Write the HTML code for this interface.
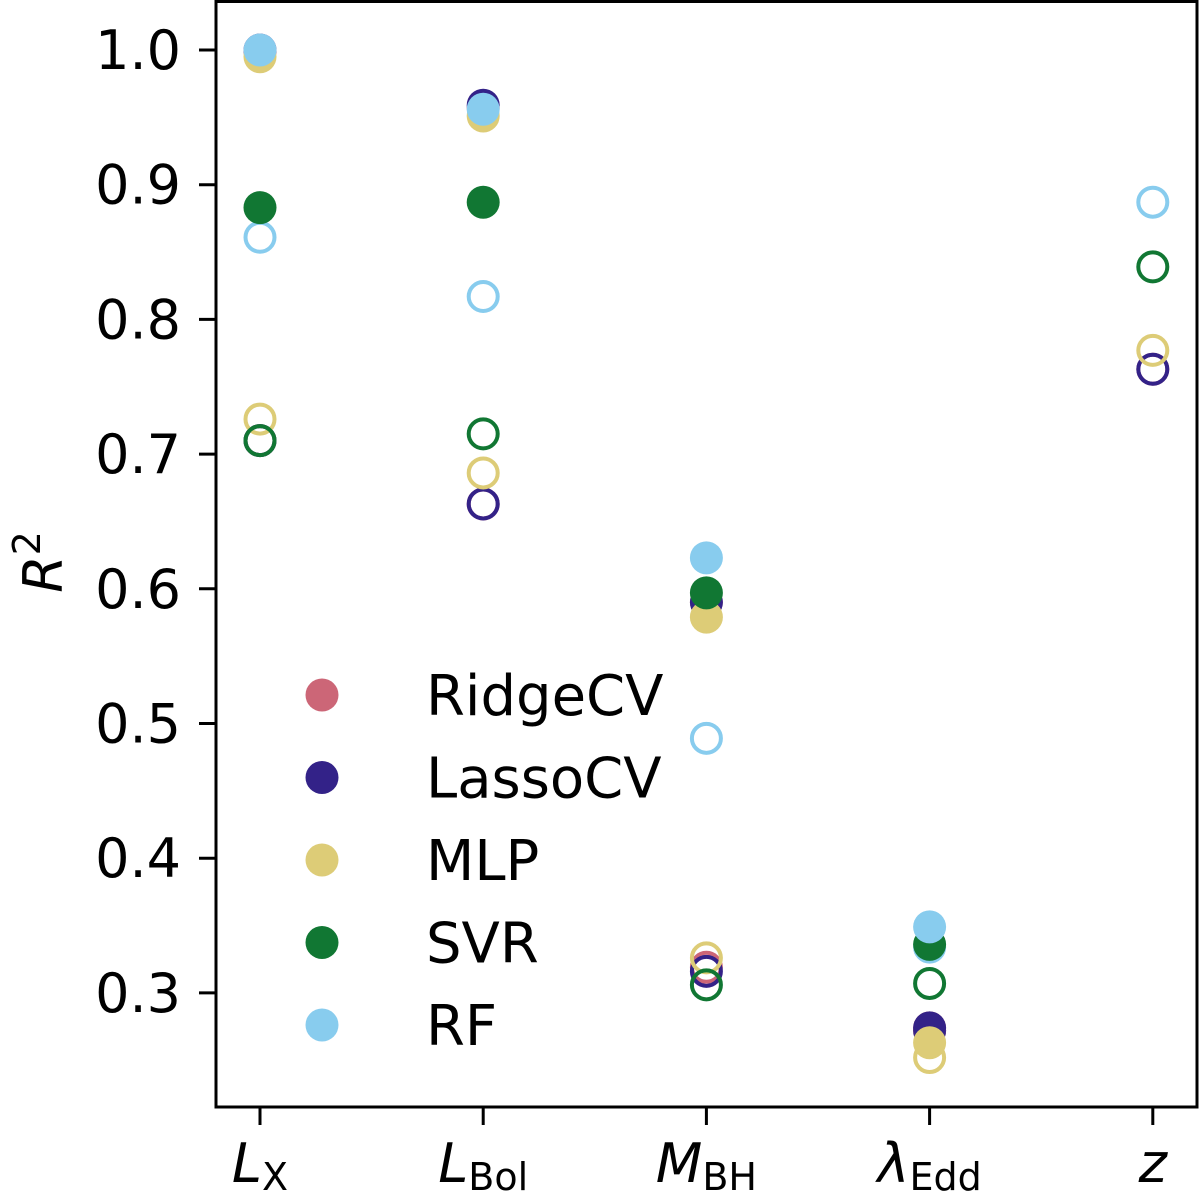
<!DOCTYPE html>
<html><head><meta charset="utf-8"><style>
html,body{margin:0;padding:0;background:#fff;}
svg{display:block;font-family:"DejaVu Sans","Liberation Sans",sans-serif;}
</style></head><body>
<svg id="chart" width="1200" height="1195" viewBox="0 0 1200 1195">
<g id="marks"></g>
<rect x="216" y="1.5" width="981" height="1105.5" fill="none" stroke="#000" stroke-width="3"/>
<g id="yaxis"></g>
<g id="xaxis"></g>
<text x="62" y="562" font-size="54" font-style="italic" text-anchor="middle" transform="rotate(-90 62 562)">R<tspan font-size="38" font-style="normal" dy="-22">2</tspan></text>
<g id="legend"></g>
</svg>
<script>
const categories = ["LX","LBol","MBH","lEdd","z"];
const models = ["RidgeCV","LassoCV","MLP","SVR","RF"];
const colors = ["#CC6677","#332288","#DDCC77","#117733","#88CCEE"];
// filled markers per model (one value per category; null = none)
const filledRidge = [0.999,0.957,0.590,0.274,null];
const filledLasso = [1.000,0.959,0.590,0.274,null];
const filledMLP   = [0.995,0.951,0.579,0.263,null];
const filledSVR   = [0.883,0.887,0.597,0.336,null];
const filledRF    = [1.000,0.956,0.623,0.349,null];
// open markers per model
const openRidge = [0.710,0.663,0.319,0.272,0.763];
const openLasso = [0.710,0.663,0.316,0.272,0.763];
const openMLP   = [0.726,0.686,0.326,0.252,0.777];
const openSVR   = [0.710,0.715,0.306,0.307,0.839];
const openRF    = [0.861,0.817,0.489,0.334,0.887];
const yTicks = [0.3,0.4,0.5,0.6,0.7,0.8,0.9,1.0];
const yTickLabels = ["0.3","0.4","0.5","0.6","0.7","0.8","0.9","1.0"];

const NS="http://www.w3.org/2000/svg";
function yScale(v){ return 50 + (1.0 - v) * 1347; }
function xScale(i){ return 260 + i * 223.2; }
function mk(tag, attrs, parent){ const e=document.createElementNS(NS,tag); for(const k in attrs) e.setAttribute(k,attrs[k]); parent.appendChild(e); return e; }

const marks=document.getElementById('marks');
const filled=[filledRidge,filledLasso,filledMLP,filledSVR,filledRF];
const opens=[openRidge,openLasso,openMLP,openSVR,openRF];
opens.forEach((arr,m)=>arr.forEach((v,i)=>{ if(v==null) return;
  const c=mk('circle',{cx:xScale(i),cy:yScale(v),r:14.5,fill:'none',stroke:colors[m],'stroke-width':4},marks);
  
  
}));
filled.forEach((arr,m)=>arr.forEach((v,i)=>{ if(v==null) return;
  const c=mk('circle',{cx:xScale(i),cy:yScale(v),r:16.5,fill:colors[m]},marks);
  
  
}));

const ya=document.getElementById('yaxis');
yTicks.forEach((t,k)=>{ const y=yScale(t);
  const l=mk('line',{x1:199,x2:216,y1:y,y2:y,stroke:'#000','stroke-width':3},ya);
  
  
  const tx=mk('text',{x:181,y:y+19,'font-size':54,'text-anchor':'end'},ya);
  tx.textContent=yTickLabels[k];
  
  
});

const xa=document.getElementById('xaxis');
const xl=[["L","X"],["L","Bol"],["M","BH"],["λ","Edd"],["z",""]];
categories.forEach((c,i)=>{ const x=xScale(i);
  const l=mk('line',{x1:x,x2:x,y1:1107,y2:1125,stroke:'#000','stroke-width':3},xa);
  
  
  const t=mk('text',{x:x,y:1182,'font-size':54,'text-anchor':'middle'},xa);
  
  
  const a=mk('tspan',{'font-style':'italic'},t); a.textContent=xl[i][0];
  if(xl[i][1]){ const b=mk('tspan',{'font-size':38,dy:8},t); b.textContent=xl[i][1]; }
});

const lg=document.getElementById('legend');
models.forEach((m,k)=>{ const y=695+k*82.5;
  const c=mk('circle',{cx:322,cy:y,r:16.5,fill:colors[k]},lg);
  
  
  const t=mk('text',{x:426,y:y+20,'font-size':56},lg); t.textContent=m;
  
  
});
</script>
</body></html>
